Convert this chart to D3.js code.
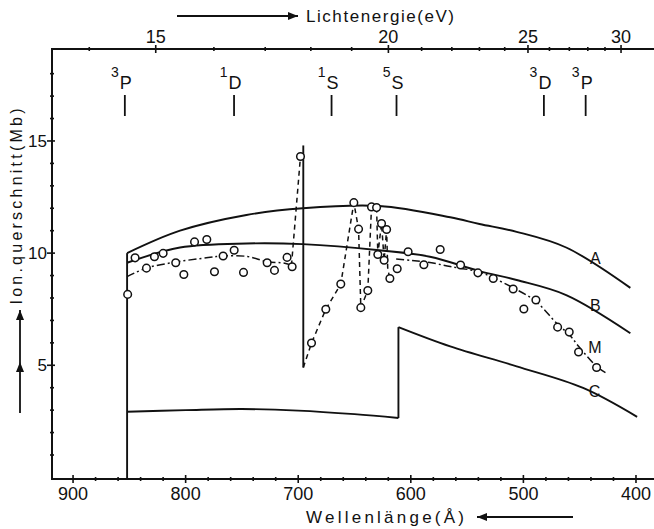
<!DOCTYPE html>
<html><head><meta charset="utf-8">
<script src="https://cdn.jsdelivr.net/npm/d3@7"></script>
<style>
body{margin:0;background:#fff}
svg{display:block}
text{font-family:"Liberation Sans",Arial,sans-serif;fill:#111}
</style>
</head><body>
<svg id="chart" width="654" height="529"></svg>
<script>
// ---------- data ----------
const wavelengthTicks = [900, 800, 700, 600, 500, 400];
const wavelengthMinor = [880, 860, 840, 820, 780, 760, 740, 720, 680, 660, 640, 620, 580, 560, 540, 520, 480, 460, 440, 420];
const energyTicks = [15, 20, 25, 30];
const energyMinor = [14, 16, 17, 18, 19, 21, 22, 23, 24, 26, 27, 28, 29];
const sigmaTicks = [5, 10, 15];
const sigmaMinor = [1, 2, 3, 4, 6, 7, 8, 9, 11, 12, 13, 14, 16, 17, 18];
const HC = 12398.4; // eV·Å

// theoretical curves [wavelength Å, cross section Mb]
const curveA = [[852,10.0],[805,11.0],[746,11.7],[696,12.0],[628,12.1],[565,11.6],[539,11.3],[506,10.95],[462,10.25],[405,8.45]];
const curveB = [[852,9.57],[805,10.25],[746,10.43],[696,10.40],[628,10.13],[583,9.84],[539,9.2],[506,8.8],[462,8.13],[405,6.43]];
const curveCLow = [[852,2.93],[800,3.0],[750,3.05],[700,2.98],[650,2.82],[611,2.65]];
const curveCJump = [[611,2.65],[611,6.70]];
const curveCHigh = [[611,6.70],[565,5.84],[506,4.95],[447,3.99],[399,2.70]];
const thresholdEdge = [[852,-0.07],[852,10.0]];
const resonanceDrop = [[695.5,14.8],[695.5,4.9]];

// measured curve M
const mFitLow = [[852,8.95],[835,9.33],[809,9.6],[780,9.8],[767,9.87],[745,9.85],[728,9.62],[712,9.55],[706,9.45]];
const mRise = [[706,9.45],[698,14.31]];
const mResonance = [[695.5,4.9],[688.2,5.99],[675.5,7.5],[662.2,8.62],[650.6,12.25],[646.4,11.07],[644.4,7.57],[638.2,8.33],[634.9,12.06],[630.4,12.03],[629.3,9.94],[626,11.32],[623.7,9.68],[621.5,11.05],[620.5,9.3],[618.6,8.87]];
const mFitHigh = [[613,9.74],[600,9.68],[585,9.6],[565,9.4],[539,9.16],[527,8.9],[509,8.45],[489,7.85],[470,6.85],[459,6.35],[451,5.85],[435,4.95],[426,4.64]];

// measured points
const measured = [[851.5,8.16],[844.9,9.79],[834.8,9.33],[827.7,9.84],[820.0,9.99],[808.8,9.57],[801.6,9.05],[792.1,10.50],[781.2,10.61],[774.4,9.17],[766.7,9.87],[756.9,10.13],[748.6,9.14],[727.6,9.57],[721.1,9.23],[709.9,9.81],[705.4,9.39],[698.0,14.31],[688.2,5.99],[675.5,7.50],[662.2,8.62],[650.6,12.25],[646.4,11.07],[644.4,7.57],[638.2,8.33],[634.9,12.06],[630.4,12.03],[626.0,11.32],[621.5,11.05],[629.3,9.94],[623.7,9.68],[618.6,8.87],[612.1,9.30],[602.4,10.06],[588.4,9.48],[573.9,10.16],[555.8,9.47],[540.4,9.12],[526.8,8.87],[509.1,8.40],[499.6,7.51],[488.9,7.91],[469.6,6.70],[459.3,6.48],[451.0,5.59],[435.0,4.90]];

// ion thresholds
const thresholdMult = ["3","1","1","5","3","3"];
const thresholdTerm = ["P","D","S","S","D","P"];
const thresholdLambda = [854, 757, 670.4, 612.7, 481.8, 444.7];

// curve labels
const curveLabelNames = ["A","B","M","C"];
const curveLabelPos = [[436,9.77],[436.2,7.69],[436.5,5.82],[436.8,3.83]];

// ---------- drawing ----------
const svg = d3.select("#chart");
const x = d3.scaleLinear().domain([918.7, 384]).range([52, 654]);
const y = d3.scaleLinear().domain([-0.07, 19.1]).range([479, 49]);
const xE = e => x(HC / e);

const defs = svg.append("defs");
defs.append("marker").attr("id","arr").attr("viewBox","0 0 10 8").attr("refX",10).attr("refY",4)
  .attr("markerWidth",10).attr("markerHeight",8).attr("markerUnits","userSpaceOnUse").attr("orient","auto")
  .append("path").attr("d","M0,0L10,4L0,8Z").attr("fill","#111");

const axisG = svg.append("g").attr("stroke","#111").attr("fill","none");
// axis lines
axisG.append("path").attr("stroke-width",2)
  .attr("d", `M${x.range()[1]},${y(19.1)}H${x(918.7)}V${y(-0.07)}H${x.range()[1]}`);

// bottom ticks
wavelengthTicks.forEach(t => axisG.append("line").attr("stroke-width",1.6)
  .attr("x1",x(t)).attr("x2",x(t)).attr("y1",y(-0.07)-4).attr("y2",y(-0.07)+4));
wavelengthMinor.forEach(t => axisG.append("line").attr("stroke-width",1.6)
  .attr("x1",x(t)).attr("x2",x(t)).attr("y1",y(-0.07)-2).attr("y2",y(-0.07)+2));
// top ticks
energyTicks.forEach(t => axisG.append("line").attr("stroke-width",1.6)
  .attr("x1",xE(t)).attr("x2",xE(t)).attr("y1",y(19.1)-4).attr("y2",y(19.1)+4));
energyMinor.forEach(t => axisG.append("line").attr("stroke-width",1.6)
  .attr("x1",xE(t)).attr("x2",xE(t)).attr("y1",y(19.1)-2).attr("y2",y(19.1)+2));
// left ticks
sigmaTicks.forEach(t => axisG.append("line").attr("stroke-width",1.6)
  .attr("x1",x(918.7)-5).attr("x2",x(918.7)+3).attr("y1",y(t)).attr("y2",y(t)));
sigmaMinor.forEach(t => axisG.append("line").attr("stroke-width",1.6)
  .attr("x1",x(918.7)-2).attr("x2",x(918.7)+2).attr("y1",y(t)).attr("y2",y(t)));

// tick labels
const tl = svg.append("g").attr("font-size",18);
wavelengthTicks.forEach(t => tl.append("text").attr("x",x(t)).attr("y",500).attr("text-anchor","middle").text(t));
energyTicks.forEach(t => tl.append("text").attr("x",xE(t)).attr("y",43).attr("text-anchor","middle").text(t));
sigmaTicks.forEach(t => tl.append("text").attr("x",47).attr("y",y(t)).attr("dy","0.36em").attr("text-anchor","end").attr("font-size",17).text(t));

// axis titles + arrows
svg.append("text").attr("x",306).attr("y",22).attr("font-size",17)
  .attr("textLength",148).attr("lengthAdjust","spacing").text("Lichtenergie(eV)");
svg.append("path").attr("d","M177,16H298").attr("stroke","#111").attr("stroke-width",1.8).attr("marker-end","url(#arr)");
svg.append("text").attr("x",306).attr("y",523).attr("font-size",17)
  .attr("textLength",158).attr("lengthAdjust","spacing").text("Wellenlänge(Å)");
svg.append("path").attr("d","M573,517H477").attr("stroke","#111").attr("stroke-width",1.8).attr("marker-end","url(#arr)");
svg.append("text").attr("transform","translate(22,206.5) rotate(-90)").attr("text-anchor","middle").attr("font-size",16)
  .attr("textLength",196).attr("lengthAdjust","spacing").text("Ion.querschnitt(Mb)");
svg.append("path").attr("d","M20,413V362V310").attr("stroke","#111").attr("stroke-width",1.8)
  .attr("marker-mid","url(#arr)").attr("marker-end","url(#arr)");

// threshold markers
const thG = svg.append("g");
thresholdLambda.forEach((l,i) => {
  const cx = x(l);
  thG.append("line").attr("x1",cx).attr("x2",cx).attr("y1",95).attr("y2",116).attr("stroke","#111").attr("stroke-width",1.8);
  const letter = thG.append("text").attr("x",cx+1).attr("y",89).attr("font-size",18).attr("text-anchor","middle").text(thresholdTerm[i]);
  const w = letter.node().getComputedTextLength();
  thG.append("text").attr("x",cx+1-w/2-1).attr("y",76.5).attr("font-size",14).attr("text-anchor","end").text(thresholdMult[i]);
});

// curves
const smooth = d3.line().x(d=>x(d[0])).y(d=>y(d[1])).curve(d3.curveCatmullRom);
const straight = d3.line().x(d=>x(d[0])).y(d=>y(d[1]));
const cg = svg.append("g").attr("fill","none").attr("stroke","#111").attr("stroke-linejoin","round");
[curveA, curveB, curveCLow, curveCHigh].forEach(c => cg.append("path").attr("d",smooth(c)).attr("stroke-width",1.9));
[curveCJump, thresholdEdge, resonanceDrop].forEach(c => cg.append("path").attr("d",straight(c)).attr("stroke-width",1.9));

// measured curve M
cg.append("path").attr("d",smooth(mFitLow)).attr("stroke-width",1.5).attr("stroke-dasharray","8,3,2,3");
cg.append("path").attr("d",smooth(mFitHigh)).attr("stroke-width",1.5).attr("stroke-dasharray","8,3,2,3");
cg.append("path").attr("d",straight(mRise)).attr("stroke-width",1.5).attr("stroke-dasharray","5,4");
cg.append("path").attr("d",straight(mResonance)).attr("stroke-width",1.5).attr("stroke-dasharray","5,4");

// measured points
svg.append("g").selectAll("circle").data(measured).join("circle")
  .attr("cx",d=>x(d[0])).attr("cy",d=>y(d[1])).attr("r",3.8)
  .attr("fill","#fff").attr("stroke","#111").attr("stroke-width",1.5);

// curve labels
curveLabelNames.forEach((n,i) => svg.append("text").attr("x",x(curveLabelPos[i][0])).attr("y",y(curveLabelPos[i][1]))
  .attr("dy","0.36em").attr("text-anchor","middle").attr("font-size",16).text(n));
</script>
</body></html>
